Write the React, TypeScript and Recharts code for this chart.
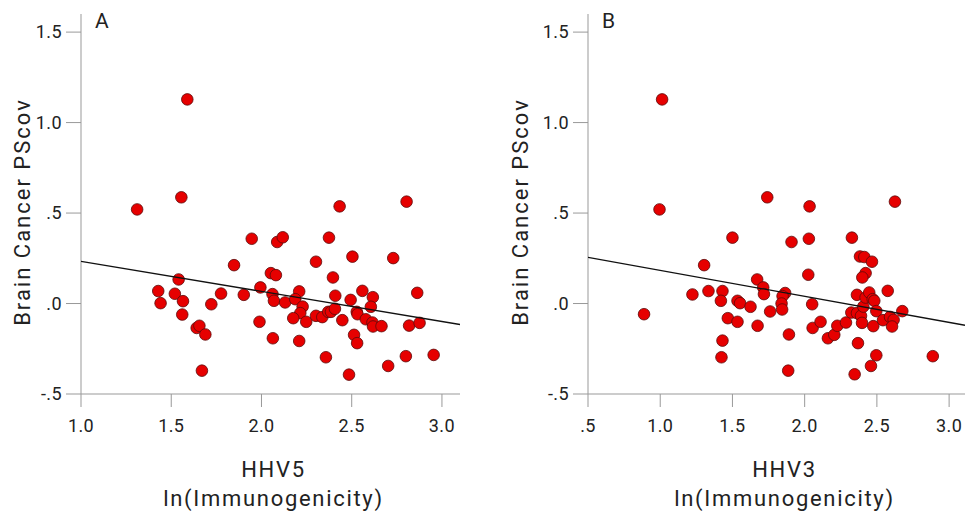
import { ScatterChart, Scatter, XAxis, YAxis } from 'recharts';

// HHV5 panel (A)
const hhv5X = [
  1.589, 1.556, 1.311, 1.946, 2.087, 2.118, 2.374, 2.433, 2.804, 2.504, 2.73, 2.302, 1.848, 1.541, 2.052,
  2.08, 2.396, 1.428, 1.441, 1.52, 1.565, 1.561, 1.776, 1.722, 1.641, 1.656, 1.689, 1.67, 1.902, 1.994,
  1.989, 2.061, 2.069, 2.063, 2.131, 2.209, 2.187, 2.228, 2.215, 2.176, 2.248, 2.209, 2.302, 2.337, 2.37,
  2.385, 2.407, 2.409, 2.448, 2.357, 2.494, 2.485, 2.528, 2.532, 2.513, 2.53, 2.559, 2.578, 2.617, 2.606,
  2.615, 2.618, 2.665, 2.702, 2.818, 2.8, 2.863, 2.876, 2.954,
];
const hhv5Y = [
  1.128, 0.587, 0.52, 0.358, 0.34, 0.366, 0.364, 0.537, 0.563, 0.259, 0.251, 0.231, 0.212, 0.133, 0.168,
  0.157, 0.144, 0.069, 0.002, 0.054, 0.013, -0.061, 0.055, -0.004, -0.135, -0.123, -0.171, -0.371, 0.048, 0.089,
  -0.101, 0.052, 0.015, -0.192, 0.006, 0.067, 0.024, -0.017, -0.053, -0.081, -0.101, -0.207, -0.068, -0.075, -0.046,
  -0.046, -0.029, 0.043, -0.092, -0.297, 0.02, -0.393, -0.046, -0.059, -0.173, -0.219, 0.07, -0.087, 0.035, -0.018,
  -0.105, -0.127, -0.125, -0.345, -0.122, -0.291, 0.059, -0.107, -0.284,
];
const hhv5FitX = [1.0, 3.1];
const hhv5FitY = [0.233, -0.116];

// HHV3 panel (B)
const hhv3X = [
  1.013, 0.995, 1.741, 2.034, 2.625, 1.5, 1.909, 2.029, 2.327, 2.383, 2.413, 2.466, 1.304, 2.025, 2.422,
  2.399, 1.671, 1.713, 1.718, 2.575, 1.223, 1.334, 1.431, 1.42, 1.535, 1.553, 1.625, 1.468, 1.535, 1.674,
  1.761, 1.865, 1.847, 1.84, 1.844, 1.891, 1.886, 1.431, 1.424, 0.888, 2.052, 2.055, 2.11, 2.161, 2.205,
  2.226, 2.286, 2.323, 2.362, 2.362, 2.39, 2.406, 2.397, 2.422, 2.447, 2.471, 2.482, 2.496, 2.475, 2.369,
  2.496, 2.459, 2.346, 2.542, 2.591, 2.616, 2.605, 2.676, 2.887,
];
const hhv3Y = [
  1.128, 0.52, 0.587, 0.537, 0.563, 0.364, 0.34, 0.358, 0.364, 0.26, 0.257, 0.231, 0.212, 0.159, 0.168,
  0.144, 0.133, 0.089, 0.052, 0.07, 0.05, 0.069, 0.069, 0.015, 0.015, 0.002, -0.018, -0.081, -0.101, -0.123,
  -0.044, 0.058, 0.041, 0.0, -0.033, -0.171, -0.371, -0.205, -0.297, -0.059, -0.004, -0.135, -0.101, -0.192, -0.173,
  -0.123, -0.105, -0.05, 0.048, -0.053, -0.068, -0.017, -0.107, 0.033, 0.061, 0.024, 0.015, -0.042, -0.125, -0.219,
  -0.286, -0.345, -0.391, -0.092, -0.074, -0.09, -0.127, -0.042, -0.291,
];
const hhv3FitX = [0.5, 3.11];
const hhv3FitY = [0.255, -0.12];

const yTicks = [-0.5, 0, 0.5, 1.0, 1.5];
const xTicksA = [1.0, 1.5, 2.0, 2.5, 3.0];
const xTicksB = [0.5, 1.0, 1.5, 2.0, 2.5, 3.0];

const FONT = 'Roboto, "Noto Sans", sans-serif';

const zip = (xs: number[], ys: number[]) => xs.map((x, i) => ({ x, y: ys[i] }));

const fmt = (v: number) => v.toFixed(1).replace(/^(-?)0\./, '$1.');

const Dot = (props: any) => {
  const { cx, cy } = props;
  if (cx == null || cy == null) return <g />;
  return <circle cx={cx} cy={cy} r={5.8} fill="#e60000" stroke="#5a0a0a" strokeWidth={0.8} />;
};

const NoDot = () => <g />;

const tickStyle = { fill: '#222', fontSize: 18, fontFamily: FONT, letterSpacing: 0.4 };

type PanelProps = {
  left: number;
  width: number;
  yAxisWidth: number;
  marginRight: number;
  xDomain: [number, number];
  xTicks: number[];
  points: { x: number; y: number }[];
  fit: { x: number; y: number }[];
  virus: string;
  letter: string;
  yLabelX: number;
  titleShift: number;
};

const Panel = ({ left, width, yAxisWidth, marginRight, xDomain, xTicks, points, fit, virus, letter, yLabelX, titleShift }: PanelProps) => {
  return (
    <div style={{ position: 'absolute', left, top: 0, width, height: 511 }}>
      <ScatterChart
        width={width}
        height={511}
        margin={{ top: 14, right: marginRight, bottom: 0, left: 0 }}
        style={{ fontFamily: FONT }}
      >
        <XAxis
          type="number"
          dataKey="x"
          domain={xDomain}
          ticks={xTicks}
          allowDataOverflow
          tickFormatter={fmt}
          height={117}
          axisLine={{ stroke: '#999' }}
          tickLine={{ stroke: '#999' }}
          tickSize={13}
          tickMargin={12}
          tick={tickStyle}
          label={({ viewBox }: any) => {
            const cx = viewBox.x + viewBox.width / 2 + titleShift;
            return (
              <g>
                <text x={cx} y={477} textAnchor="middle" fontSize={22} fill="#222" fontFamily={FONT} letterSpacing={1.7}>
                  {virus}
                </text>
                <text x={cx} y={506} textAnchor="middle" fontSize={22} fill="#222" fontFamily={FONT} letterSpacing={1.7}>
                  ln(Immunogenicity)
                </text>
              </g>
            );
          }}
        />
        <YAxis
          type="number"
          dataKey="y"
          domain={[-0.5, 1.6]}
          ticks={yTicks}
          allowDataOverflow
          tickFormatter={fmt}
          width={yAxisWidth}
          axisLine={{ stroke: '#999' }}
          tickLine={{ stroke: '#999' }}
          tickSize={15}
          tickMargin={4}
          tick={tickStyle}
          label={() => (
            <text
              x={yLabelX}
              y={212}
              transform={`rotate(-90 ${yLabelX} 212)`}
              textAnchor="middle"
              dominantBaseline="central"
              fontSize={22}
              fill="#222"
              fontFamily={FONT}
              letterSpacing={2}
            >
              Brain Cancer PScov
            </text>
          )}
        />
        <Scatter data={points} shape={Dot} isAnimationActive={false} />
        <Scatter
          data={fit}
          shape={NoDot}
          line={{ stroke: '#111', strokeWidth: 1.3 }}
          isAnimationActive={false}
        />
      </ScatterChart>
      <div
        style={{
          position: 'absolute',
          left: yAxisWidth + 14,
          top: 9,
          fontSize: 21,
          fontFamily: FONT,
          color: '#222',
          lineHeight: '24px',
        }}
      >
        {letter}
      </div>
    </div>
  );
};

export default function App() {
  return (
    <div style={{ position: 'absolute', left: 0, top: 0, width: 965, height: 511, background: '#fff', overflow: 'hidden' }}>
      <Panel
        left={0}
        width={480}
        yAxisWidth={81}
        marginRight={20}
        xDomain={[1.0, 3.1]}
        xTicks={xTicksA}
        points={zip(hhv5X, hhv5Y)}
        fit={zip(hhv5FitX, hhv5FitY)}
        virus="HHV5"
        letter="A"
        yLabelX={22}
        titleShift={3}
      />
      <Panel
        left={480}
        width={485}
        yAxisWidth={108}
        marginRight={0}
        xDomain={[0.5, 3.11]}
        xTicks={xTicksB}
        points={zip(hhv3X, hhv3Y)}
        fit={zip(hhv3FitX, hhv3FitY)}
        virus="HHV3"
        letter="B"
        yLabelX={40}
        titleShift={8}
      />
    </div>
  );
}
